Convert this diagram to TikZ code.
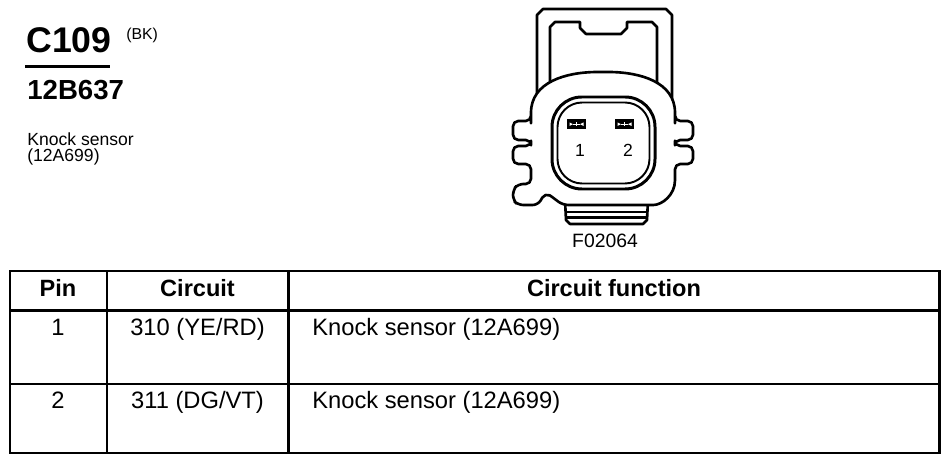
\documentclass[tikz,border=0pt]{standalone}
\usepackage{fontspec}
\setmainfont{Liberation Sans}
\usetikzlibrary{positioning}

\begin{document}
\begin{tikzpicture}[x=0.02cm, y=-0.02cm,
    outline/.style = {line width=1.5pt, line join=round},
    rim/.style = {line width=1.7pt},
    grid/.style = {line width=1.7pt},
    cell/.style = {inner sep=0pt, anchor=base, font=\fontsize{13.5}{16}\selectfont},
    head/.style = {cell, font=\fontsize{13.4}{16}\selectfont\bfseries}]

    \useasboundingbox (0,0) rectangle (950,465);

    % title block
    \node[anchor=base west, inner sep=0pt, font=\fontsize{20.3}{24}\selectfont\bfseries] (conn) at (26,53) {C109};
    \node[inner sep=0pt, font=\fontsize{9}{11}\selectfont, right=8pt of conn.north east, anchor=north west] (colour) {(BK)};
    \draw[line width=1.7pt] (25,66.5) -- (110,66.5);
    \node[anchor=base west, inner sep=0pt, font=\fontsize{15.7}{18}\selectfont\bfseries] (part) at (27,100) {12B637};
    \node[anchor=base west, inner sep=0pt, font=\fontsize{10}{12}\selectfont] (desc) at (27,146) {Knock sensor};
    \node[anchor=base west, inner sep=0pt, font=\fontsize{10}{12}\selectfont] (descnum) at (27,162) {(12A699)};

    % latch
    \draw[outline, fill=white] (537,100) -- (537,15) -- (543,9) -- (666,9) -- (672,15) -- (672,100);
    \draw[outline] (550,95) -- (550,27) -- (555,22) -- (580,22) -- (580,28) -- (586,34) -- (621,34) -- (627,28) -- (627,22) -- (652,22) -- (657,27) -- (657,95);

    % ribbed foot
    \draw[outline, fill=white] (565,200) -- (566,220) -- (570,224) -- (643,224) -- (647,220) -- (648,200);
    \draw[outline] (566,212) -- (647,212);
    \draw[outline] (566,217.5) -- (647,217.5);

    % housing
    \draw[outline, fill=white, rounded corners=3pt] (531,118) .. controls (531,82) and (566,72) .. (603,72)
        .. controls (640,72) and (675,82) .. (675,118)
        -- (675,121) -- (693,121) -- (693,140) -- (675,140)
        -- (675,146) -- (693,146) -- (693,164) -- (675,164)
        -- (675,175) .. controls (675,195) and (662,205) .. (648,205) -- (563,205)
        .. controls (556,200) and (551,196) .. (545,193)
        -- (538,205) -- (518,205) -- (513,200) -- (513,190) -- (518,184) -- (531,184)
        -- (531,164) -- (513,164) -- (513,146) -- (531,146)
        -- (531,140) -- (513,140) -- (513,121) -- (531,121) -- cycle;

    % cavity
    \draw[rim, rounded corners=17pt] (552,97) rectangle (655,189);
    \draw[line width=1.1pt, rounded corners=14pt] (557.5,102.5) rectangle (649.5,183.5);

    % terminals
    \fill (567,119.5) rectangle (586,129);
    \fill[white] (569.5,122.5) -- (573,124.25) -- (569.5,126) -- cycle;
    \fill[white] (583.5,122.5) -- (580,124.25) -- (583.5,126) -- cycle;
    \draw[white, line width=0.4pt] (573,124.25) -- (580,124.25) (576.5,122.5) -- (576.5,126);

    \fill (615,119.5) rectangle (634,129);
    \fill[white] (617.5,122.5) -- (621,124.25) -- (617.5,126) -- cycle;
    \fill[white] (631.5,122.5) -- (628,124.25) -- (631.5,126) -- cycle;
    \draw[white, line width=0.4pt] (621,124.25) -- (628,124.25) (624.5,122.5) -- (624.5,126);

    \node[anchor=base, inner sep=0pt, font=\fontsize{10}{12}\selectfont] (n1) at (580,157) {1};
    \node[anchor=base, inner sep=0pt, font=\fontsize{10}{12}\selectfont] (n2) at (628,157) {2};

    \node[anchor=base, inner sep=0pt, font=\fontsize{11}{13}\selectfont] (fig) at (605,248) {F02064};

    % pin table
    \draw[grid] (10,271) rectangle (939,453);
    \draw[grid] (10,310.5) -- (939,310.5);
    \draw[grid] (10,384) -- (939,384);
    \draw[grid] (107,271) -- (107,453);
    \draw[grid] (288.5,271) -- (288.5,453);

    \node[head] (hpin) at (58,296.5) {Pin};
    \node[head] (hcirc) at (197.5,296.5) {Circuit};
    \node[head] (hfunc) at (614,296.5) {Circuit function};

    \node[cell] (p1) at (58,335.5) {1};
    \node[cell] (c1) at (197.5,335.5) {310 (YE/RD)};
    \node[cell, anchor=base west] (f1) at (312,335.5) {Knock sensor (12A699)};

    \node[cell] (p2) at (58,408.5) {2};
    \node[cell] (c2) at (197.5,408.5) {311 (DG/VT)};
    \node[cell, anchor=base west] (f2) at (312,408.5) {Knock sensor (12A699)};

\end{tikzpicture}
\end{document}
